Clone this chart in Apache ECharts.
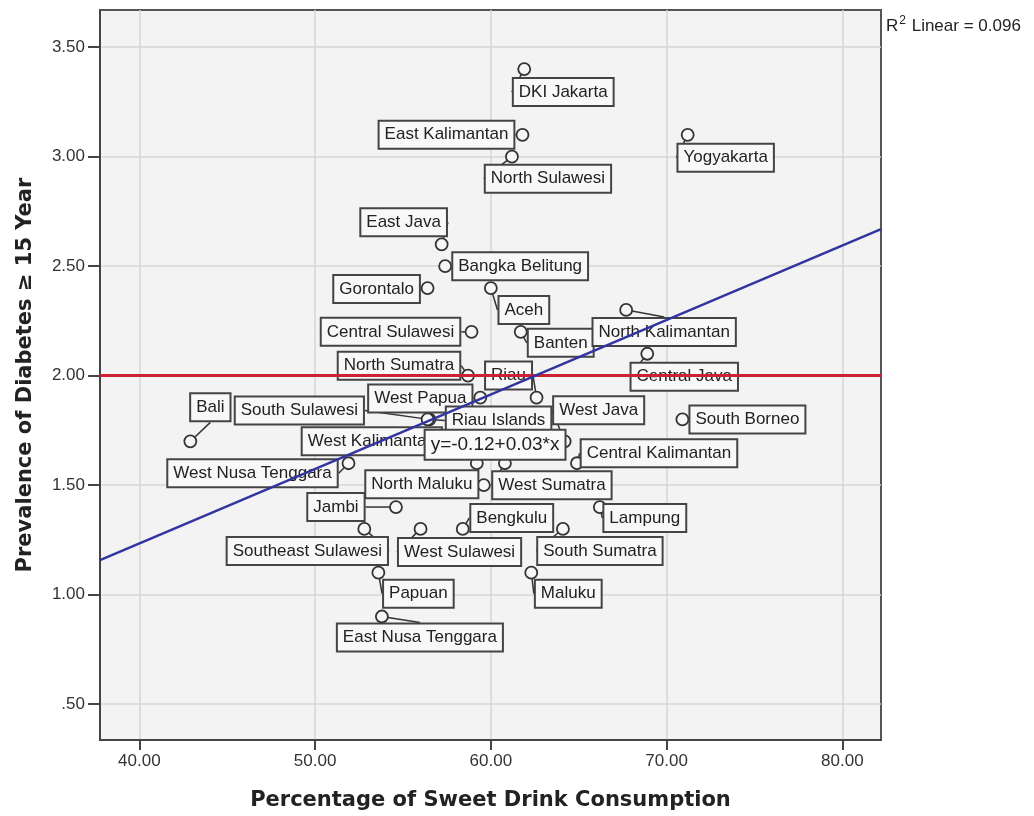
<!DOCTYPE html>
<html>
<head>
<meta charset="utf-8">
<script src="https://cdn.jsdelivr.net/npm/echarts@6/dist/echarts.min.js"></script>
<style>
html,body{margin:0;padding:0;background:#fff;}
#chart{width:1034px;height:816px;}
</style>
</head>
<body>
<div id="chart"></div>
<script>
// ---- data ----
const provinces = ["DKI Jakarta","East Kalimantan","North Sulawesi","Yogyakarta","East Java","Bangka Belitung","Gorontalo","Aceh","Central Sulawesi","Banten","North Kalimantan","North Sumatra","Central Java","Riau","West Papua","Bali","South Sulawesi","Riau Islands","West Java","South Borneo","West Kalimantan","West Nusa Tenggara","Central Kalimantan","North Maluku","West Sumatra","Jambi","Lampung","Bengkulu","West Sulawesi","South Sumatra","Southeast Sulawesi","Papuan","Maluku","East Nusa Tenggara"];
const sweetDrink = [61.9,61.8,61.2,71.2,57.2,57.4,56.4,60.0,58.9,61.7,67.7,58.7,68.9,62.6,59.4,42.9,56.5,56.4,64.2,70.9,59.2,51.9,64.9,59.6,60.8,54.6,66.2,58.4,56.0,64.1,52.8,53.6,62.3,53.8];
const diabetes   = [3.4,3.1,3.0,3.1,2.6,2.5,2.4,2.4,2.2,2.2,2.3,2.0,2.1,1.9,1.9,1.7,1.8,1.8,1.7,1.8,1.6,1.6,1.6,1.5,1.6,1.4,1.4,1.3,1.3,1.3,1.3,1.1,1.1,0.9];
const xTicks = [40,50,60,70,80];
const yTicks = [0.5,1.0,1.5,2.0,2.5,3.0,3.5];
const fitIntercept = -0.126;
const fitSlope = 0.034;
const referenceY = 2.0;
const rSquared = "0.096";
const equationText = "y=-0.12+0.03*x";

// ---- layout (label box offsets from each point, px) ----
const labelOffsets = {
 "DKI Jakarta":[39,23],"East Kalimantan":[-76,0],"North Sulawesi":[36,22],"Yogyakarta":[38,23],
 "East Java":[-38,-22],"Bangka Belitung":[75,0],"Gorontalo":[-51,1],"Aceh":[33,22],
 "Central Sulawesi":[-81,0],"Banten":[40,11],"North Kalimantan":[38,22],"North Sumatra":[-69,-10],
 "Central Java":[37,23],"Riau":[-28,-22],"West Papua":[-60,1],"Bali":[20,-34],
 "South Sulawesi":[-130,-9],"Riau Islands":[71,1],"West Java":[34,-31],"South Borneo":[65,0],
 "West Kalimantan":[-105,-22],"West Nusa Tenggara":[-96,10],"Central Kalimantan":[82,-10],
 "North Maluku":[-62,-1],"West Sumatra":[47,22],"Jambi":[-60,0],"Lampung":[45,11],
 "Bengkulu":[49,-11],"West Sulawesi":[39,23],"South Sumatra":[37,22],"Southeast Sulawesi":[-57,22],
 "Papuan":[40,21],"Maluku":[37,21],"East Nusa Tenggara":[38,21]
};
const X_MIN = 37.76, X_MAX = 82.2, Y_MIN = 0.336, Y_MAX = 3.67;
const FONT = "'Liberation Sans', Arial, sans-serif";
const TITLE_FONT = "'DejaVu Sans', 'Liberation Sans', sans-serif";

const points = provinces.map((n,i)=>({name:n, value:[sweetDrink[i], diabetes[i]]}));
const fitLine = [[X_MIN, fitIntercept + fitSlope*X_MIN],[X_MAX, fitIntercept + fitSlope*X_MAX]];

const chart = echarts.init(document.getElementById('chart'), null, {renderer:'canvas'});
chart.setOption({
  animation:false,
  backgroundColor:'#ffffff',
  textStyle:{fontFamily:FONT},
  grid:{left:100,right:153,top:10,bottom:76,show:true,backgroundColor:'#f3f3f3',borderColor:'#555',borderWidth:2},
  xAxis:{
    type:'value',min:X_MIN,max:X_MAX,
    name:'Percentage of Sweet Drink Consumption',nameLocation:'middle',nameGap:50,
    nameTextStyle:{fontFamily:TITLE_FONT,fontSize:21,fontWeight:'bold',color:'#222'},
    axisLine:{show:true,lineStyle:{color:'#444',width:2}},
    axisTick:{show:true,length:10,lineStyle:{color:'#444',width:2},customValues:xTicks},
    axisLabel:{fontFamily:FONT,fontSize:17,color:'#333',margin:13,customValues:xTicks,formatter:v=>v.toFixed(2)},
    splitLine:{show:true,lineStyle:{color:'#d6d6d6',width:1.5}}
  },
  yAxis:{
    type:'value',min:Y_MIN,max:Y_MAX,
    name:'Prevalence of Diabetes \u2265 15 Year',nameLocation:'middle',nameGap:64,
    nameTextStyle:{fontFamily:TITLE_FONT,fontSize:21,fontWeight:'bold',color:'#222'},
    axisLine:{show:true,lineStyle:{color:'#444',width:2}},
    axisTick:{show:true,length:12,lineStyle:{color:'#444',width:2},customValues:yTicks},
    axisLabel:{fontFamily:FONT,fontSize:17,color:'#333',margin:15,customValues:yTicks,
      formatter:v=>v.toFixed(2).replace(/^0\./,'.')},
    splitLine:{show:true,lineStyle:{color:'#d6d6d6',width:1.5}}
  },
  graphic:[{
    type:'text',left:886,top:15,z:50,
    style:{text:'{r|R}{s|2}{r| Linear = '+rSquared+'}',
      rich:{r:{fontFamily:FONT,fontSize:17,fill:'#222',verticalAlign:'bottom'},
            s:{fontFamily:FONT,fontSize:12,fill:'#222',verticalAlign:'top',padding:[0,1,8,1]}}}
  }],
  series:[
    {
      type:'scatter',z:2,
      data:points,
      symbol:'circle',symbolSize:12,
      itemStyle:{color:'#f6f6f6',borderColor:'#333',borderWidth:1.8,opacity:1},
      label:{show:true,position:'inside',formatter:p=>p.name,
        fontFamily:FONT,fontSize:17,color:'#222',
        backgroundColor:'#f8f8f8',borderColor:'#444',borderWidth:2,padding:[5,5,4,5]},
      labelLine:{show:true,length2:0,lineStyle:{color:'#333',width:1.5}},
      labelLayout:function(p){
        const o = labelOffsets[provinces[p.dataIndex]] || [0,0];
        return {dx:o[0],dy:o[1],hideOverlap:false};
      }
    },
    {
      type:'line',z:5,
      data:fitLine,symbol:'none',silent:true,
      lineStyle:{color:'#3434a0',width:2.5},
      markLine:{silent:true,symbol:['none','none'],label:{show:false},
        lineStyle:{color:'#cc2233',width:3,type:'solid'},
        data:[{yAxis:referenceY}]}
    },
    {
      type:'scatter',z:10,data:[],
      markPoint:{
        silent:true,symbol:'rect',symbolSize:1,itemStyle:{color:'transparent'},
        label:{show:true,position:'inside',formatter:equationText,
          fontFamily:FONT,fontSize:19,color:'#222',
          backgroundColor:'#fafafa',borderColor:'#444',borderWidth:2,padding:[5,5,4,5]},
        data:[{coord:[60.24,1.684]}]
      }
    }
  ]
});
</script>
</body>
</html>
